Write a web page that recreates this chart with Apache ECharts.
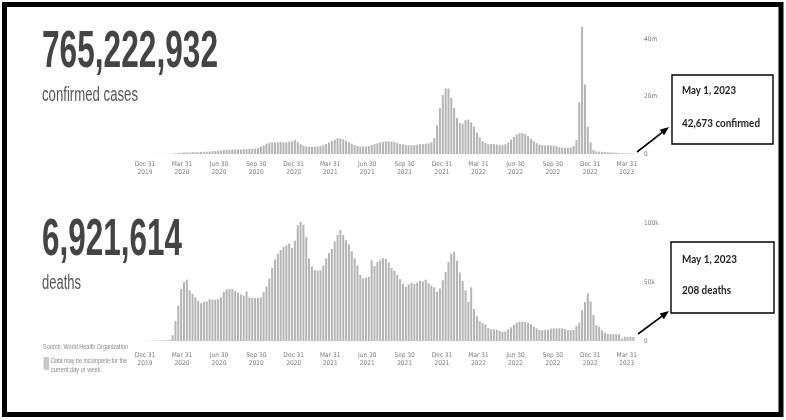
<!DOCTYPE html>
<html><head><meta charset="utf-8">
<script src="https://cdn.jsdelivr.net/npm/echarts@6/dist/echarts.min.js"></script>
<style>html,body{margin:0;padding:0;background:#fff}#c{width:786px;height:420px}</style>
</head><body><div id="c"></div>
<script>
// ---------- DATA ----------
const firstWeekStart = [2020, 0, 5];   // first weekly bar (y, m0, d)
// weekly confirmed cases, millions
const casesMillions = [
 0.01,0.02,0.02,0.03,0.03,0.02,0.02,0.03,0.05,0.1,
 0.2,0.3,0.4,0.5,0.55,0.55,0.6,0.6,0.65,0.7,
 0.75,0.8,0.85,0.95,1.05,1.15,1.25,1.35,1.4,1.5,
 1.55,1.6,1.6,1.6,1.65,1.7,1.7,1.75,1.85,2.1,
 2.6,3.0,3.6,3.9,4.0,4.0,4.1,4.2,4.1,4.0,
 4.3,4.4,4.9,4.2,3.4,2.9,2.6,2.5,2.5,2.5,
 2.6,2.8,3.1,3.5,4.0,4.5,5.0,5.5,5.4,5.1,
 4.6,4.1,3.6,3.1,2.8,2.6,2.6,2.6,2.8,3.1,
 3.4,3.7,4.0,4.2,4.4,4.4,4.3,4.1,3.8,3.5,
 3.3,3.1,3.0,3.0,3.1,3.2,3.4,3.5,3.6,3.7,
 4.0,5.5,10.0,15.9,20.5,22.8,22.8,19.5,16.0,12.5,
 10.8,10.6,11.8,12.0,11.0,9.5,7.5,5.8,4.5,3.8,
 3.4,3.5,3.5,3.3,3.1,3.1,3.4,4.0,5.0,6.0,
 6.8,7.2,7.3,7.0,6.2,5.3,4.5,3.8,3.3,3.1,
 3.0,3.0,3.0,2.9,2.7,2.4,2.2,2.1,2.1,2.3,
 2.8,4.8,18.0,44.3,24.2,9.5,4.1,1.4,0.9,0.8,
 0.75,0.7,0.6,0.55,0.5,0.45,0.35,0.3,0.25,0.22,
 0.2,0.15
];
// weekly deaths, thousands
const deathsThousands = [
 0.1,0.2,0.3,0.3,0.4,0.5,0.5,0.6,1.0,5,
 17,30,44,50,52,43,40,37,34,32,
 33,33.5,35.5,35,35,35.5,37,41.5,43.5,44,
 44,42.5,41,39.5,38.5,42,37,36.4,36.4,36.4,
 37,41.5,46,53,62,69,74,77,79.7,81,
 82.5,79,85,98,101,98.5,88,70,63,60,
 59.5,60,64,70,74.5,78,84.5,89.8,94,90,
 85.5,82,76,70,64,56,53,53.5,54.5,68.5,
 63.6,67,68.5,70,69.5,66.5,62,59.6,56,52.3,
 48.3,46,48,49.4,48.3,49.4,51,50.5,52,49,
 47,45.5,41.8,44.6,51.5,58.5,67,74,75.7,68,
 58,51,43,33,45.5,27,21,16.8,15.3,14,
 11,10,9.9,9.7,8.8,7.9,8.2,9.9,11.5,13.6,
 15.5,16.4,16.4,16.2,15.3,14.2,12.1,10.7,9.3,9.3,
 9.3,9.5,10.5,10.7,10.7,10.7,10.7,10.2,9.3,9.3,
 9.5,12.7,15.5,26,33,40.4,33.5,22,13.5,12,
 9,7.2,6,5.8,5.8,5.7,5.6,2.2,3.7,3.6,
 3.6,3.4
];
const tickDates = [[2019,11,31],[2020,2,31],[2020,5,30],[2020,8,30],[2020,11,31],[2021,2,31],[2021,5,30],[2021,8,30],[2021,11,31],[2022,2,31],[2022,5,30],[2022,8,30],[2022,11,31],[2023,2,31]];
const tickLabels = ["Dec 31\n2019","Mar 31\n2020","Jun 30\n2020","Sep 30\n2020","Dec 31\n2020","Mar 31\n2021","Jun 30\n2021","Sep 30\n2021","Dec 31\n2021","Mar 31\n2022","Jun 30\n2022","Sep 30\n2022","Dec 31\n2022","Mar 31\n2023"];
const axisEndDate = [2023, 4, 5];
const casesTicks = [0, 20, 40];
const deathsTicks = [0, 50, 100];
const totalCases = "765,222,932";
const totalDeaths = "6,921,614";
const casesNote = ["May 1, 2023", "42,673 confirmed"];
const deathsNote = ["May 1, 2023", "208 deaths"];

// ---------- BUILD ----------
const DAY = 86400000;
const utc = d => Date.UTC(d[0], d[1], d[2]);
const origin = utc(tickDates[0]);
const dayOf = d => Math.round((utc(d) - origin) / DAY);   // days since Dec 31 2019
const w0 = dayOf(firstWeekStart);
const weekDays = casesMillions.map((_, i) => w0 + 7 * i);
const tickDays = tickDates.map(dayOf);
const xMaxDay = dayOf(axisEndDate);

const narrow = "'Liberation Sans Narrow','DejaVu Sans Condensed','Liberation Sans',sans-serif";
const mctx = document.createElement('canvas').getContext('2d');
function fit(text, font, w) { mctx.font = font; return w / mctx.measureText(text).width; }

function xLabel(v) {
  let best = 0, bd = Infinity;
  tickDays.forEach((t, i) => { const d = Math.abs(t - v); if (d < bd) { bd = d; best = i; } });
  return tickLabels[best];
}
function xAxisCfg(gi, margin, lh) {
  return {
    type: 'value', gridIndex: gi, min: 0, max: xMaxDay,
    axisLine: { show: false }, axisTick: { show: false }, splitLine: { show: false },
    axisLabel: { customValues: tickDays, formatter: xLabel, color: '#7a7a7a', fontSize: 6.5,
      lineHeight: lh, fontFamily: narrow, margin: margin, hideOverlap: false }
  };
}
function yAxisCfg(gi, max, ticks, unit) {
  return {
    type: 'value', gridIndex: gi, position: 'right', min: 0, max: max,
    axisLine: { show: false }, axisTick: { show: false }, splitLine: { show: false },
    axisLabel: { customValues: ticks, formatter: v => v === 0 ? '0' : v + unit,
      color: '#7a7a7a', fontSize: 6.5, fontFamily: narrow, margin: 3 }
  };
}

const bigFont = 'bold 51px "Liberation Sans"';
const subFont = '20.5px "Liberation Sans"';
const smallFont = '7.5px "Liberation Sans"';
const noteFont = 'bold 11px Lato';

function txt(text, x, y, font, w, fill) {
  const s = fit(text, font, w);
  return { type: 'text', x: x, y: y, scaleX: s, silent: true,
    style: { text: text, font: font, fill: fill, align: 'left', verticalAlign: 'middle' } };
}
function arrow(x1, y1, x2, y2) {
  const a = Math.atan2(y2 - y1, x2 - x1), L = 9, W = 3.5;
  const bx = x2 - L * Math.cos(a), by = y2 - L * Math.sin(a);
  const px = -Math.sin(a) * W, py = Math.cos(a) * W;
  return [
    { type: 'line', silent: true, shape: { x1: x1, y1: y1, x2: bx, y2: by }, style: { stroke: '#000', lineWidth: 1.6 } },
    { type: 'polygon', silent: true, shape: { points: [[x2, y2], [bx + px, by + py], [bx - px, by - py]] }, style: { fill: '#000' } }
  ];
}

const graphics = [
  { type: 'rect', silent: true, shape: { x: 4.5, y: 4.5, width: 776.5, height: 410 }, style: { fill: 'none', stroke: '#000', lineWidth: 5 } },
  txt(totalCases, 42, 53.3, bigFont, 176, '#444'),
  txt('confirmed cases', 42, 95, subFont, 96, '#555'),
  txt(totalDeaths, 42, 240.5, bigFont, 140, '#444'),
  txt('deaths', 42, 283, subFont, 39, '#555'),
  txt('Source: World Health Organization', 43, 347, smallFont, 85, '#888'),
  { type: 'rect', silent: true, shape: { x: 43.5, y: 357, width: 5.5, height: 13 }, style: { fill: '#c8c8c8' } },
  txt('Data may be incomplete for the', 51, 360.5, smallFont, 76, '#888'),
  txt('current day or week.', 51, 369.5, smallFont, 51, '#888'),
  { type: 'rect', silent: true, shape: { x: 672, y: 75, width: 101, height: 69 }, style: { fill: '#fff', stroke: '#000', lineWidth: 1.4 } },
  txt(casesNote[0], 682, 90.5, noteFont, 54, '#222'),
  txt(casesNote[1], 682, 123.5, noteFont, 78, '#222'),
  { type: 'rect', silent: true, shape: { x: 671, y: 242, width: 103, height: 71 }, style: { fill: '#fff', stroke: '#000', lineWidth: 1.4 } },
  txt(deathsNote[0], 682, 259.5, noteFont, 55, '#222'),
  txt(deathsNote[1], 682, 290, noteFont, 49, '#222'),
  ...arrow(637, 152, 669, 127),
  ...arrow(638, 334, 669, 311)
];

const chart = echarts.init(document.getElementById('c'), null, { renderer: 'canvas' });
chart.setOption({
  animation: false,
  backgroundColor: '#fff',
  grid: [
    { left: 145, width: 496, top: 21.75, height: 132.25 },
    { left: 145, width: 496, top: 217.1, height: 123.9 }
  ],
  xAxis: [xAxisCfg(0, 7, 7.5), xAxisCfg(1, 10, 8.5)],
  yAxis: [yAxisCfg(0, 46, casesTicks, 'm'), yAxisCfg(1, 105, deathsTicks, 'k')],
  series: [
    { type: 'bar', xAxisIndex: 0, yAxisIndex: 0, barWidth: 2, silent: true,
      itemStyle: { color: '#b4b4b4' }, data: weekDays.map((t, i) => [t, casesMillions[i]]) },
    { type: 'bar', xAxisIndex: 1, yAxisIndex: 1, barWidth: 2, silent: true,
      itemStyle: { color: '#b4b4b4' }, data: weekDays.map((t, i) => [t, deathsThousands[i]]) }
  ],
  graphic: graphics
});
</script></body></html>
